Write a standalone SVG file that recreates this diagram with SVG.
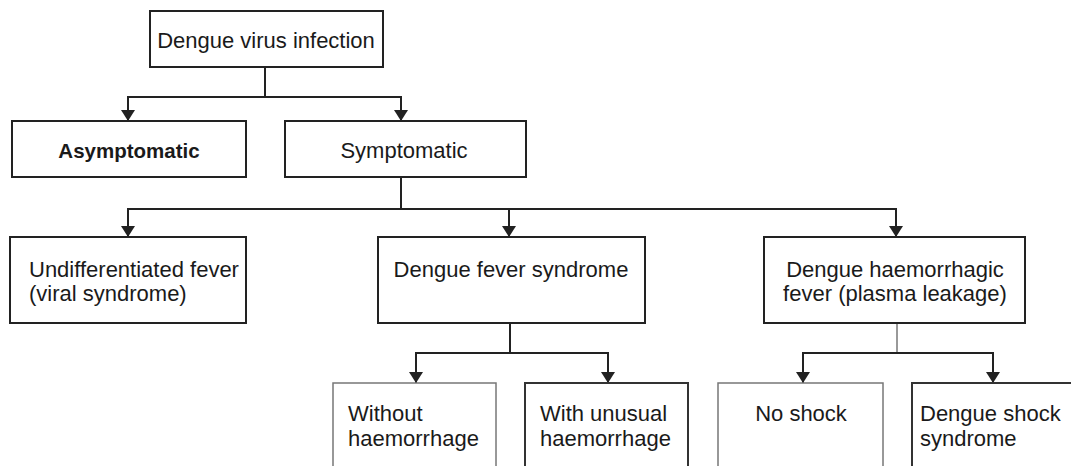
<svg xmlns="http://www.w3.org/2000/svg" width="1071" height="466" viewBox="0 0 1071 466">
<defs>
<marker id="arr" markerUnits="userSpaceOnUse" markerWidth="12" markerHeight="14" viewBox="0 0 12 14" refX="11" refY="7" orient="auto">
<path d="M0,0 L11,7 L0,14 Z" fill="#222"/>
</marker>
<style>
.box{fill:#fff;stroke:#222;stroke-width:2}
.lite{fill:#fff;stroke:#777;stroke-width:1.5}
.mid{fill:#fff;stroke:#333;stroke-width:2}
.t{font-family:"Liberation Sans",Arial,sans-serif;font-size:22px;fill:#1a1a1a}
.c{text-anchor:middle}
.b{font-weight:bold;font-size:20.5px}
.ln{fill:none;stroke:#222;stroke-width:2}
.ar{fill:none;stroke:#222;stroke-width:2;marker-end:url(#arr)}
.thin{fill:none;stroke:#777;stroke-width:1.5}
</style>
</defs>
<rect width="1071" height="466" fill="#fff"/>
<g id="connectors">
<path class="ln" d="M265,67 V97"/>
<path class="ln" d="M128,97 H401"/>
<path class="ar" d="M128,96 V121"/>
<path class="ar" d="M401,96 V121"/>
<path class="ln" d="M401,177 V209"/>
<path class="ln" d="M128,209 H896"/>
<path class="ar" d="M128,208 V237"/>
<path class="ar" d="M509,208 V237"/>
<path class="ar" d="M896,208 V237"/>
<path class="ln" d="M510,323 V353"/>
<path class="ln" d="M416,353 H608"/>
<path class="ar" d="M416,352 V383"/>
<path class="ar" d="M608,352 V383"/>
<path class="thin" d="M897,323 V353"/>
<path class="ln" d="M803,353 H993"/>
<path class="ar" d="M803,352 V383"/>
<path class="ar" d="M993,352 V383"/>
</g>
<g id="n-dengue-virus">
<rect class="box" x="150" y="11" width="233" height="56"/>
<text class="t c" x="266" y="48">Dengue virus infection</text>
</g>
<g id="n-asymptomatic">
<rect class="box" x="12" y="121" width="234" height="56"/>
<text class="t c b" x="129" y="158">Asymptomatic</text>
</g>
<g id="n-symptomatic">
<rect class="box" x="285" y="121" width="241" height="56"/>
<text class="t c" x="404" y="158">Symptomatic</text>
</g>
<g id="n-undifferentiated">
<rect class="box" x="10" y="237" width="236" height="86"/>
<text class="t" x="29" y="277">Undifferentiated fever</text>
<text class="t" x="29" y="301">(viral syndrome)</text>
</g>
<g id="n-dengue-fever-syndrome">
<rect class="box" x="378" y="237" width="267" height="86"/>
<text class="t c" x="511" y="277">Dengue fever syndrome</text>
</g>
<g id="n-dhf">
<rect class="box" x="764" y="237" width="261" height="86"/>
<text class="t c" x="895" y="277">Dengue haemorrhagic</text>
<text class="t c" x="895" y="301">fever (plasma leakage)</text>
</g>
<g id="n-without">
<rect class="lite" x="333" y="383" width="163" height="90"/>
<text class="t" x="348" y="421">Without</text>
<text class="t" x="348" y="446">haemorrhage</text>
</g>
<g id="n-with-unusual">
<rect class="mid" x="525" y="383" width="163" height="90"/>
<text class="t" x="540" y="421">With unusual</text>
<text class="t" x="540" y="446">haemorrhage</text>
</g>
<g id="n-no-shock">
<rect class="lite" x="718" y="383" width="165" height="90"/>
<text class="t c" x="801" y="421">No shock</text>
</g>
<g id="n-dengue-shock">
<rect class="mid" x="912" y="383" width="170" height="90"/>
<text class="t" x="920" y="421">Dengue shock</text>
<text class="t" x="920" y="446">syndrome</text>
</g>
</svg>
